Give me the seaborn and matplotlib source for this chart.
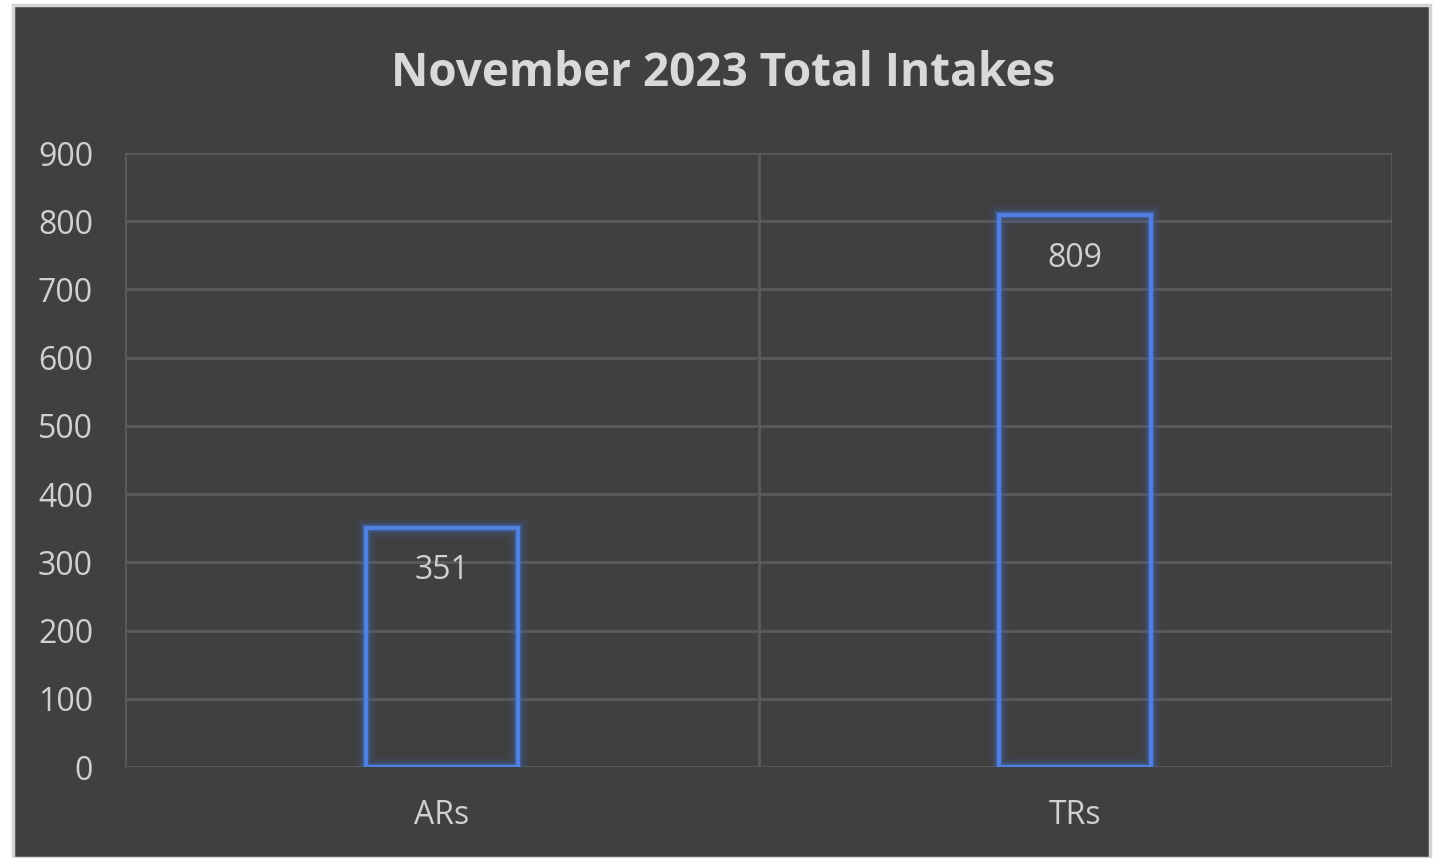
import matplotlib
matplotlib.use("Agg")
import matplotlib.pyplot as plt
import matplotlib.patheffects as pe
from matplotlib.patches import Rectangle
import seaborn as sns
import pandas as pd

categories = ["ARs", "TRs"]
values = [351, 809]
title = "November 2023 Total Intakes"
yticks = list(range(0, 1000, 100))

sns.set_style("dark")
plt.rcParams['font.family'] = ['Open Sans', 'DejaVu Sans']

W, H = 1440, 858
fig = plt.figure(figsize=(W / 100, H / 100), dpi=100, facecolor="white")
bg = "#404040"
fig.patches.append(Rectangle((13 / W, 0), (1430 - 13) / W, (853) / H,
                             transform=fig.transFigure, facecolor=bg,
                             edgecolor="#d4d4d4", linewidth=2.5, zorder=-10))

ax = fig.add_axes([125 / W, 1 - 767 / H, (1392 - 125) / W, (767 - 153) / H])
ax.set_zorder(1)
ax.set_facecolor(bg)

df = pd.DataFrame({"cat": categories, "val": values})
sns.barplot(data=df, x="cat", y="val", ax=ax, fill=False, width=0.24,
            edgecolor="#4a7ad8", linewidth=3, errorbar=None)

for p in ax.patches:
    p.set_edgecolor("#4f80e0")
    p.set_linewidth(3)
    p.set_zorder(3)
    p.set_path_effects([
        pe.Stroke(linewidth=14, foreground="#3a64b8", alpha=0.10),
        pe.Stroke(linewidth=9, foreground="#3a64b8", alpha=0.18),
        pe.Stroke(linewidth=5.5, foreground="#4472c4", alpha=0.4),
        pe.Normal(),
    ])

for i, v in enumerate(values):
    ax.annotate(str(v), (i, v), xytext=(0, -43), textcoords="offset pixels",
                ha="center", va="center", color="#d0d0d0", fontsize=23, zorder=4)

ax.set_ylim(0, 900)
ax.set_xlim(-0.5, 1.5)
ax.set_yticks(yticks)
ax.set_yticklabels([str(t) for t in yticks])
ax.set_xticks(range(len(categories)))
ax.set_xticklabels(categories)
ax.set_xticks([-0.5, 0.5, 1.5], minor=True)

ax.grid(False)
ax.yaxis.grid(True, color="#5a5a5a", linewidth=2)
ax.xaxis.grid(True, which="minor", color="#5a5a5a", linewidth=2)
ax.set_axisbelow(True)
for s in ax.spines.values():
    s.set_visible(False)

ax.tick_params(axis="y", which="both", length=0, pad=23, labelsize=23, labelcolor="#d0d0d0")
ax.tick_params(axis="x", which="both", length=0, pad=23, labelsize=23, labelcolor="#d0d0d0")
ax.set_xlabel("")
ax.set_ylabel("")

fig.text(723 / W, 1 - 74 / H, title, ha="center", va="center",
         color="#d9d9d9", fontsize=33, fontweight="bold")

fig.savefig("out.png", dpi=100, facecolor=fig.get_facecolor())
